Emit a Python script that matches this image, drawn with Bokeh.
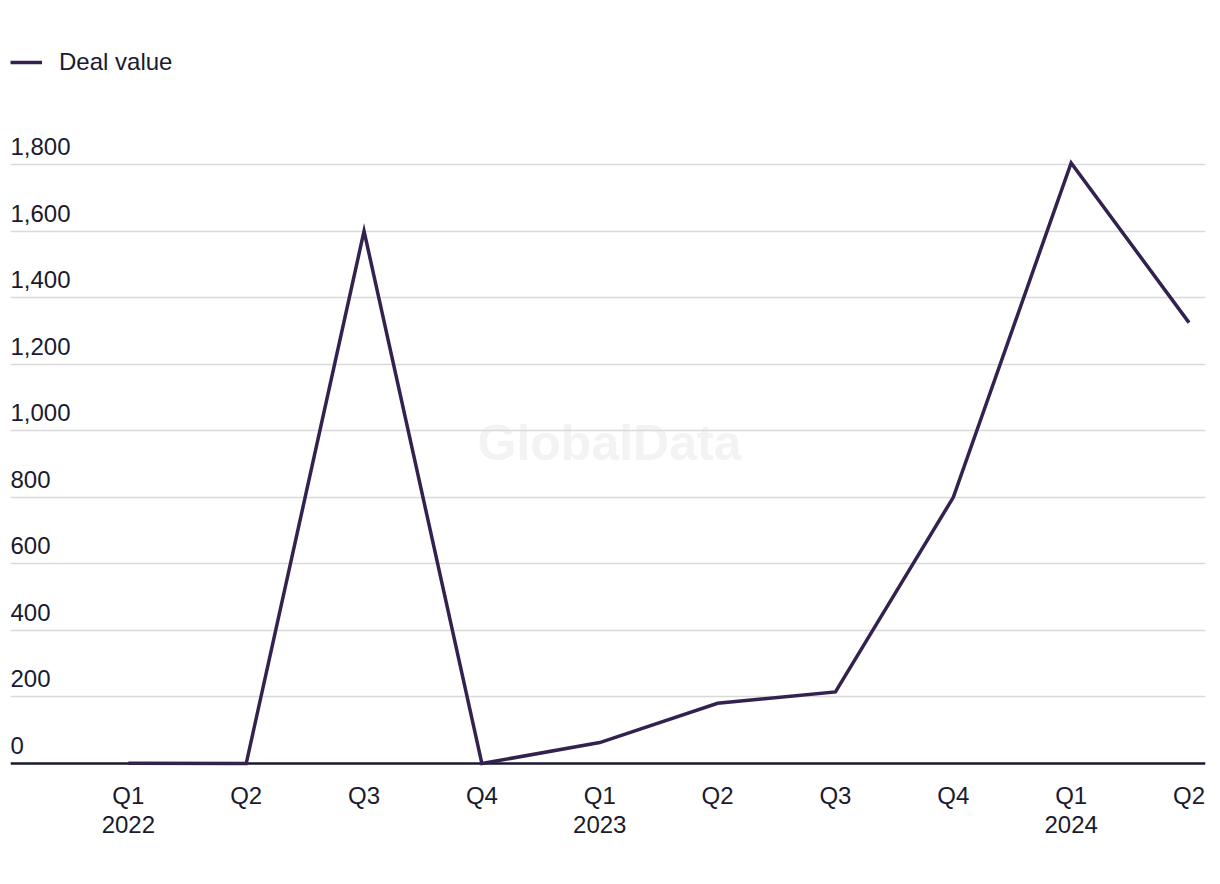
from bokeh.plotting import figure
from bokeh.models import (ColumnDataSource, FixedTicker, Span, Label, Legend, LegendItem, Range1d)
from bokeh.core.properties import value
from bokeh.embed import file_html
from bokeh.resources import INLINE

quarters = ["Q1", "Q2", "Q3", "Q4", "Q1", "Q2", "Q3", "Q4", "Q1", "Q2"]
years = ["2022", "", "", "", "2023", "", "", "", "2024", ""]
deal_value = [1, 0, 1600, 0, 63, 181, 215, 800, 1805, 1325]
y_ticks = [0, 200, 400, 600, 800, 1000, 1200, 1400, 1600, 1800]
y_tick_labels = ["0", "200", "400", "600", "800", "1,000", "1,200", "1,400", "1,600", "1,800"]
series_name = "Deal value"
watermark = "GlobalData"

FONT = "Liberation Sans"
TEXT = "#1a1a2e"
LINE = "#33214f"

x_idx = list(range(len(quarters)))
x_start, x_end = -1.0, 9.14

p = figure(width=1212, height=876, output_backend="svg", toolbar_location=None,
           x_range=Range1d(x_start, x_end), y_range=Range1d(-9, 2263),
           min_border_left=10, min_border_right=7, min_border_top=10, min_border_bottom=110)
p.outline_line_color = None
p.background_fill_color = "white"
p.border_fill_color = "white"

# watermark
p.add_layout(Label(x=599, y=324, x_units="screen", y_units="screen", text=watermark,
                   text_font=FONT, text_font_size="50px", text_font_style="bold",
                   text_color="#f3f3f3", text_align="center", text_baseline="middle",
                   level="image"))

# grid
p.xgrid.visible = False
p.ygrid.ticker = FixedTicker(ticks=y_ticks)
p.ygrid.grid_line_color = "#d9d9d9"
p.ygrid.grid_line_width = 1.5

p.yaxis.visible = False

xa = p.xaxis[0]
xa.ticker = FixedTicker(ticks=x_idx)
xa.major_label_overrides = {i: (q + ("\n" + y if y else "")) for i, (q, y) in enumerate(zip(quarters, years))}
xa.axis_line_color = None
xa.major_tick_line_color = None
xa.minor_tick_line_color = None
xa.major_tick_out = 0
xa.major_tick_in = 0
xa.major_label_standoff = 15
xa.major_label_text_font = FONT
xa.major_label_text_font_size = "24px"
xa.major_label_text_line_height = 1.1
xa.major_label_text_color = TEXT

# baseline
p.add_layout(Span(location=0, dimension="width", line_color=TEXT, line_width=2.5, level="underlay"))

# y labels above gridlines
ysrc = ColumnDataSource(dict(x=[x_start] * len(y_ticks), y=y_ticks, t=y_tick_labels))
p.text(x="x", y="y", text="t", source=ysrc, text_font=value(FONT), text_font_size="24px",
       text_color=TEXT, text_align="left", text_baseline="middle", y_offset=-18)

src = ColumnDataSource(dict(x=x_idx, y=deal_value))
r = p.line(x="x", y="y", source=src, line_color=LINE, line_width=3.5, line_join="miter")

legend = Legend(items=[LegendItem(label=series_name, renderers=[r])], location=(0, 689),
                padding=0, margin=0, glyph_width=32, glyph_height=30, label_height=30,
                label_standoff=17, label_text_font=FONT, label_text_font_size="24px",
                label_text_color=TEXT, border_line_alpha=0, background_fill_alpha=0)
p.add_layout(legend)

open("out.html", "w").write(file_html(p, INLINE))
